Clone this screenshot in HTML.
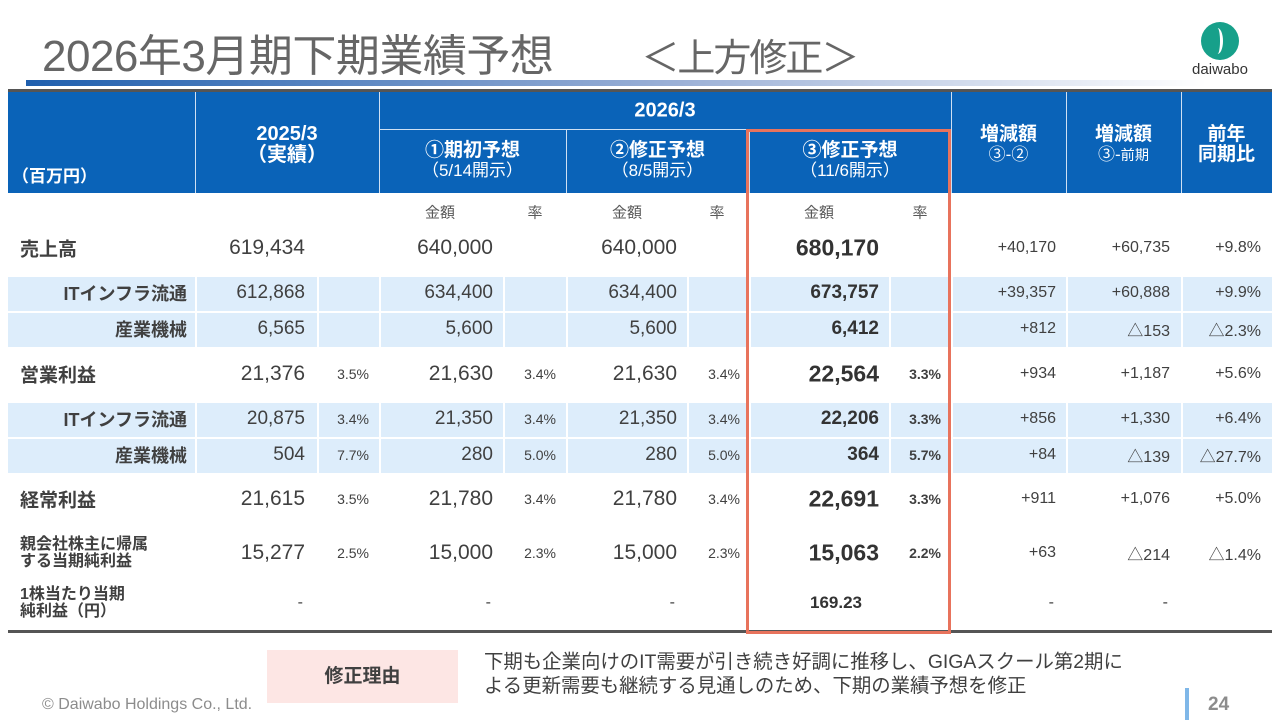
<!DOCTYPE html>
<html><head><meta charset="utf-8">
<style>
body{margin:0;width:1280px;height:720px;position:relative;background:#fff;font-family:"Liberation Sans","Noto Sans CJK JP",sans-serif;overflow:hidden;color:#404040}
.a{position:absolute}
.h{color:#fff;font-weight:bold;text-align:center;line-height:1.05}
.hs{font-weight:normal;font-size:17px}
.c{position:absolute;white-space:nowrap;transform:translateY(-50%)}
</style></head><body>
<div class="a" style="left:42px;top:20px;font-size:44px;color:#666;letter-spacing:-0.5px;white-space:nowrap">2026年3月期下期業績予想<span style="margin-left:88px;font-size:38px;letter-spacing:-2px">＜上方修正＞</span></div>
<div class="a" style="left:1190px;top:20px;width:60px;height:60px">
<div style="position:absolute;left:11px;top:2px;width:38px;height:38px;border-radius:50%;background:#17a08a"></div>
<div style="position:absolute;left:22px;top:8px;width:8px;height:26px;border-radius:50%;border-right:3px solid #fff"></div>
<div style="position:absolute;left:0;top:41px;font-size:15px;color:#333;width:60px;text-align:center">daiwabo</div></div>
<div class="a" style="left:26px;top:80px;width:1180px;height:6px;background:linear-gradient(90deg,#1f5fae,#9bb0d6 55%,#fff)"></div>
<div class="a" style="left:8px;top:89px;width:1264px;height:3px;background:#555"></div>
<div class="a" style="left:8px;top:92px;width:1264px;height:101px;background:#0a63b8"></div>
<div id="hdr"></div>
<div id="bands"></div>
<div id="body"></div>
<div class="a" style="left:8px;top:630px;width:1264px;height:3px;background:#555"></div>
<div class="a" style="left:746px;top:129px;width:199px;height:499px;border:3px solid #e8735c"></div>
<div class="a" style="left:267px;top:650px;width:191px;height:53px;background:#fde6e4;font-size:19px;font-weight:bold;text-align:center;line-height:53px;color:#404040">修正理由</div>
<div class="a" style="left:484px;top:650px;font-size:19.4px;line-height:24px;color:#404040;white-space:nowrap">下期も企業向けのIT需要が引き続き好調に推移し、GIGAスクール第2期に<br>よる更新需要も継続する見通しのため、下期の業績予想を修正</div>
<div class="a" style="left:42px;top:696px;font-size:16px;color:#8c8c8c">© Daiwabo Holdings Co., Ltd.</div>
<div class="a" style="left:1185px;top:688px;width:4px;height:32px;background:#7fb7e8"></div>
<div class="a" style="left:1208px;top:694px;font-size:19px;font-weight:bold;color:#8c8c8c">24</div>
<script>
const rowLabels=["売上高","ITインフラ流通","産業機械","営業利益","ITインフラ流通","産業機械","経常利益","親会社株主に帰属<br>する当期純利益","1株当たり当期<br>純利益（円）"];
const rowY=[248,293,329,374,419,455,499,553,603];
const rowMain=[1,0,0,1,0,0,1,1,2];
const v2025=["619,434","612,868","6,565","21,376","20,875","504","21,615","15,277","-"];
const r2025=["","","","3.5%","3.4%","7.7%","3.5%","2.5%",""];
const v1=["640,000","634,400","5,600","21,630","21,350","280","21,780","15,000","-"];
const r1=["","","","3.4%","3.4%","5.0%","3.4%","2.3%",""];
const v2=["640,000","634,400","5,600","21,630","21,350","280","21,780","15,000","-"];
const r2=["","","","3.4%","3.4%","5.0%","3.4%","2.3%",""];
const v3=["680,170","673,757","6,412","22,564","22,206","364","22,691","15,063","169.23"];
const r3=["","","","3.3%","3.3%","5.7%","3.3%","2.2%",""];
const d32=["+40,170","+39,357","+812","+934","+856","+84","+911","+63","-"];
const dPrev=["+60,735","+60,888","△153","+1,187","+1,330","△139","+1,076","△214","-"];
const yoy=["+9.8%","+9.9%","△2.3%","+5.6%","+6.4%","△27.7%","+5.0%","△1.4%",""];
const colR=[305,369,493,556,677,740,879,941,1056,1170,1261];
const colB=[195,317,379,503,566,687,749,889,951,1066,1181];
function mk(parent,html,style){const d=document.createElement('div');d.className='c';d.innerHTML=html;d.style.cssText=style;parent.appendChild(d);return d;}
const hdr=document.getElementById('hdr'),bands=document.getElementById('bands'),body=document.getElementById('body');
[195,379,951,1066,1181].forEach(x=>{const d=document.createElement('div');d.className='a';d.style.cssText=`left:${x}px;top:92px;width:1px;height:101px;background:#cfe0f3`;


hdr.appendChild(d);});
[566,749].forEach(x=>{const d=document.createElement('div');d.className='a';d.style.cssText=`left:${x}px;top:130px;width:1px;height:63px;background:#cfe0f3`;


hdr.appendChild(d);});
{const d=document.createElement('div');d.className='a';d.style.cssText='left:379px;top:129px;width:572px;height:1px;background:#cfe0f3';


hdr.appendChild(d);}
const heads=[["（百万円）",8,175,"left:12px;text-align:left;font-size:17px"],
["2025/3<br>（実績）",195,184,"font-size:20px"],
["2026/3",379,572,"font-size:20px"],
["①期初予想<br><span class='hs'>（5/14開示）</span>",379,187,"font-size:19px"],
["②修正予想<br><span class='hs'>（8/5開示）</span>",566,183,"font-size:19px"],
["③修正予想<br><span class='hs'>（11/6開示）</span>",749,202,"font-size:19px"],
["増減額<br><span class='hs'>③-②</span>",951,115,"font-size:19px"],
["増減額<br><span class='hs'>③-<small>前期</small></span>",1066,115,"font-size:19px"],
["前年<br>同期比",1181,91,"font-size:19px"]];
const headY=[177,145,111,161,161,161,145,145,145];
heads.forEach((h,i)=>{const d=mk(hdr,h[0],`left:${h[1]}px;width:${h[2]}px;top:${headY[i]}px;`+h[3]);d.classList.add('h');


if(i==0){d.style.left='12px';d.style.width='auto';}});
[[440,"金額"],[535,"率"],[627,"金額"],[717,"率"],[819,"金額"],[920,"率"]].forEach(s=>{const d=mk(hdr,s[1],`left:${s[0]}px;top:212px;font-size:15px;color:#595959;transform:translate(-50%,-50%)`);

});
rowY.forEach((y,i)=>{if(rowMain[i]===0){const b=document.createElement('div');b.className='a';b.style.cssText=`left:8px;top:${y-16}px;width:1264px;height:34px;background:#ddedfb`;


bands.appendChild(b);
colB.forEach(x=>{const l=document.createElement('div');l.className='a';l.style.cssText=`left:${x}px;top:${y-16}px;width:2px;height:34px;background:#fff`;


bands.appendChild(l);});
if(i==1||i==4){const l=document.createElement('div');l.className='a';l.style.cssText=`left:8px;top:${y+18}px;width:1264px;height:2px;background:#fff`;


bands.appendChild(l);}}});
const cols=[v2025,r2025,v1,r1,v2,r2,v3,r3,d32,dPrev,yoy];
rowY.forEach((y,i)=>{const m=rowMain[i];
const lab=mk(body,rowLabels[i],m===0?`right:${1280-187}px;top:${y}px;font-size:18px;font-weight:bold;text-align:right`:(m===2||i==7?`left:20px;top:${y}px;font-size:16px;font-weight:bold;line-height:17px`:`left:20px;top:${y}px;font-size:19px;font-weight:bold`));


cols.forEach((arr,c)=>{const t=arr[i];if(!t)return;let fs,fw='normal';
const isRate=(c%2===1&&c<8);
if(c>=8)fs=16;else if(isRate)fs=14;else fs=m===0?19:21;
if(c===6||c===7)fw='bold';
if(c===6&&m!==0)fs=23;if(c===6&&m===2)fs=18;
let style=`right:${1280-colR[c]}px;top:${y}px;font-size:${fs}px;font-weight:${fw};color:${c===6?'#333':'#404040'}`;
if(t==='-')style=`right:${1280-colR[c]+2}px;top:${y}px;font-size:16px`;
if(c===6&&m===2)style=`left:810px;top:${y}px;font-size:17px;font-weight:bold;color:#333`;
const d=mk(body,t,style);

});});
</script>
</body></html>
